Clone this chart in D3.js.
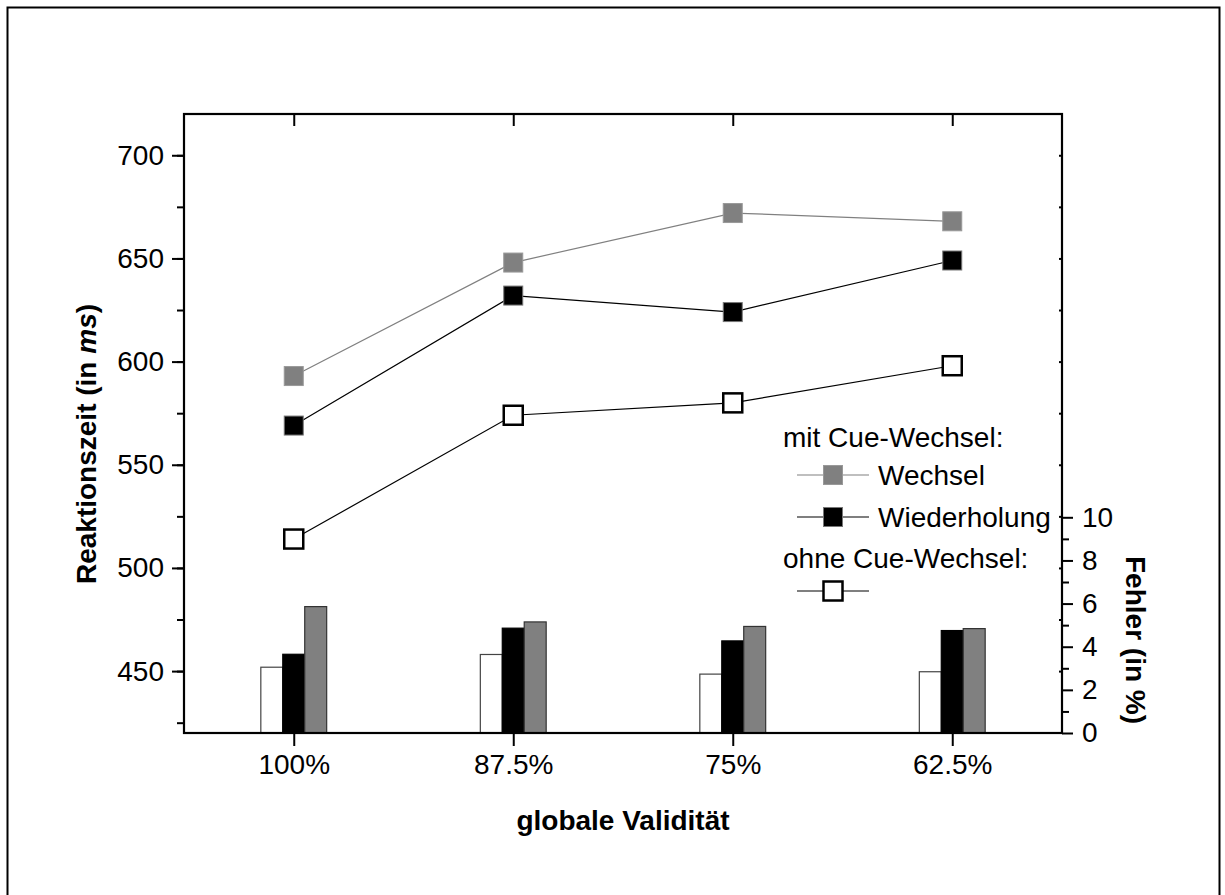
<!DOCTYPE html>
<html>
<head>
<meta charset="utf-8">
<script src="https://cdn.jsdelivr.net/npm/d3@7"></script>
<style>
  body { margin: 0; background: #fff; }
  svg text { font-family: "Liberation Sans", Arial, sans-serif; }
</style>
</head>
<body>
<div id="chart"></div>
<script>
// Data
var categories = ['100%', '87.5%', '75%', '62.5%'];
var rt_wechsel = [593, 648, 672, 668];
var rt_wiederholung = [569, 632, 624, 649];
var rt_ohne = [514, 574, 580, 598];
var err_ohne = [3.05, 3.64, 2.73, 2.84];
var err_wiederholung = [3.65, 4.86, 4.27, 4.75];
var err_wechsel = [5.86, 5.15, 4.94, 4.84];
var rt_ticks = [450, 500, 550, 600, 650, 700];
var err_ticks = [0, 2, 4, 6, 8, 10];

// SVG Element
var chart_width = 1225;
var chart_height = 895;
var svg = d3.select('#chart')
    .append('svg')
    .attr('width', chart_width)
    .attr('height', chart_height);

// outer frame
svg.append('rect')
    .attr('x', 7.5).attr('y', 7.5)
    .attr('width', 1212).attr('height', 900)
    .attr('fill', 'none').attr('stroke', '#000').attr('stroke-width', 2);

var p_left = 184, p_right = 1062, p_top = 114, p_bottom = 733;

// scales
var x_scale = d3.scaleLinear().domain([0.5, 4.5]).range([p_left, p_right]);
var y_scale = d3.scaleLinear().domain([420, 720]).range([p_bottom, p_top]);
var y2_scale = d3.scaleLinear().domain([0, 10]).range([p_bottom, 517.3]);

// Bars (error rates, right axis)
var bar_w = x_scale(0.1) - x_scale(0);
var bar_series = [
    { values: err_ohne, offset: -1, fill: '#fff', stroke: '#444' },
    { values: err_wiederholung, offset: 0, fill: '#000', stroke: '#000' },
    { values: err_wechsel, offset: 1, fill: '#808080', stroke: '#333' }
];
bar_series.forEach(function (s) {
    svg.append('g').selectAll('rect')
        .data(s.values)
        .enter()
        .append('rect')
        .attr('x', function (d, i) { return x_scale(i + 1 + s.offset * 0.1) - bar_w / 2; })
        .attr('y', function (d) { return y2_scale(d); })
        .attr('width', bar_w)
        .attr('height', function (d) { return p_bottom - y2_scale(d); })
        .attr('fill', s.fill)
        .attr('stroke', s.stroke)
        .attr('stroke-width', 1.2);
});

// Lines (reaction times, left axis)
var line_series = [
    { values: rt_wechsel, line: '#808080', fill: '#808080', stroke: '#999', sw: 1 },
    { values: rt_wiederholung, line: '#000', fill: '#000', stroke: '#777', sw: 1 },
    { values: rt_ohne, line: '#000', fill: '#fff', stroke: '#000', sw: 2.5 }
];
var line = d3.line()
    .x(function (d, i) { return x_scale(i + 1); })
    .y(function (d) { return y_scale(d); });
var msize = 19;
line_series.forEach(function (s) {
    svg.append('path')
        .attr('d', line(s.values))
        .attr('fill', 'none')
        .attr('stroke', s.line)
        .attr('stroke-width', 1.2);
    svg.append('g').selectAll('rect')
        .data(s.values)
        .enter()
        .append('rect')
        .attr('x', function (d, i) { return x_scale(i + 1) - msize / 2; })
        .attr('y', function (d) { return y_scale(d) - msize / 2; })
        .attr('width', msize)
        .attr('height', msize)
        .attr('fill', s.fill)
        .attr('stroke', s.stroke)
        .attr('stroke-width', s.sw);
});

// Axes
function styleAxis(g, fs) {
    g.select('.domain').remove();
    g.selectAll('line').attr('stroke', '#000').attr('stroke-width', 2);
    g.selectAll('text').attr('font-size', fs).attr('fill', '#000');
}

// left minor + major
svg.append('g').attr('transform', 'translate(' + p_left + ',0)')
    .call(d3.axisLeft(y_scale).tickValues(d3.range(425, 721, 25)).tickSize(7).tickFormat(''))
    .call(styleAxis, 28);
svg.append('g').attr('transform', 'translate(' + p_left + ',0)')
    .call(d3.axisLeft(y_scale).tickValues(rt_ticks).tickSize(12).tickPadding(8))
    .call(styleAxis, 28);

// right small inner ticks mirroring the left axis
svg.append('g').attr('transform', 'translate(' + p_right + ',0)')
    .call(d3.axisLeft(y_scale).tickValues(d3.range(450, 721, 25)).tickSize(3).tickFormat(''))
    .call(styleAxis, 28);

// right axis (error)
svg.append('g').attr('transform', 'translate(' + p_right + ',0)')
    .call(d3.axisRight(y2_scale).tickValues(d3.range(1, 10, 2)).tickSize(7).tickFormat(''))
    .call(styleAxis, 28);
svg.append('g').attr('transform', 'translate(' + p_right + ',0)')
    .call(d3.axisRight(y2_scale).tickValues(err_ticks).tickSize(11).tickPadding(9))
    .call(styleAxis, 28);

// bottom axis
svg.append('g').attr('transform', 'translate(0,' + p_bottom + ')')
    .call(d3.axisBottom(x_scale).tickValues([1, 2, 3, 4]).tickSize(13).tickPadding(8)
        .tickFormat(function (d) { return categories[d - 1]; }))
    .call(styleAxis, 28);

// top axis (inner ticks)
svg.append('g').attr('transform', 'translate(0,' + p_top + ')')
    .call(d3.axisBottom(x_scale).tickValues([1, 2, 3, 4]).tickSize(12).tickFormat(''))
    .call(styleAxis, 28);

// plot frame
svg.append('rect')
    .attr('x', p_left).attr('y', p_top)
    .attr('width', p_right - p_left).attr('height', p_bottom - p_top)
    .attr('fill', 'none').attr('stroke', '#000').attr('stroke-width', 2.2);

// Axis titles
svg.append('text')
    .attr('x', (p_left + p_right) / 2).attr('y', 830)
    .attr('text-anchor', 'middle')
    .attr('font-size', 28).attr('font-weight', 'bold')
    .text('globale Validität');

var yt = svg.append('text')
    .attr('transform', 'translate(96,444) rotate(-90)')
    .attr('text-anchor', 'middle')
    .attr('font-size', 28).attr('font-weight', 'bold');
yt.append('tspan').text('Reaktionszeit (in ');
yt.append('tspan').attr('font-style', 'italic').text('ms');
yt.append('tspan').text(')');

svg.append('text')
    .attr('transform', 'translate(1126,640) rotate(90)')
    .attr('text-anchor', 'middle')
    .attr('font-size', 28).attr('font-weight', 'bold')
    .text('Fehler (in %)');

// Legend
var lg = svg.append('g');
lg.append('text').attr('x', 783).attr('y', 447).attr('font-size', 28).text('mit Cue-Wechsel:');
lg.append('text').attr('x', 783).attr('y', 568).attr('font-size', 28).text('ohne Cue-Wechsel:');
var legend_items = [
    { y: 475, s: line_series[0], label: 'Wechsel' },
    { y: 517, s: line_series[1], label: 'Wiederholung' },
    { y: 591, s: line_series[2], label: '' }
];
legend_items.forEach(function (it) {
    lg.append('line')
        .attr('x1', 797).attr('x2', 869)
        .attr('y1', it.y).attr('y2', it.y)
        .attr('stroke', it.s.line).attr('stroke-width', 1.2);
    lg.append('rect')
        .attr('x', 833 - msize / 2).attr('y', it.y - msize / 2)
        .attr('width', msize).attr('height', msize)
        .attr('fill', it.s.fill).attr('stroke', it.s.stroke).attr('stroke-width', it.s.sw);
    lg.append('text').attr('x', 878).attr('y', it.y + 10).attr('font-size', 28).text(it.label);
});
</script>
</body>
</html>
